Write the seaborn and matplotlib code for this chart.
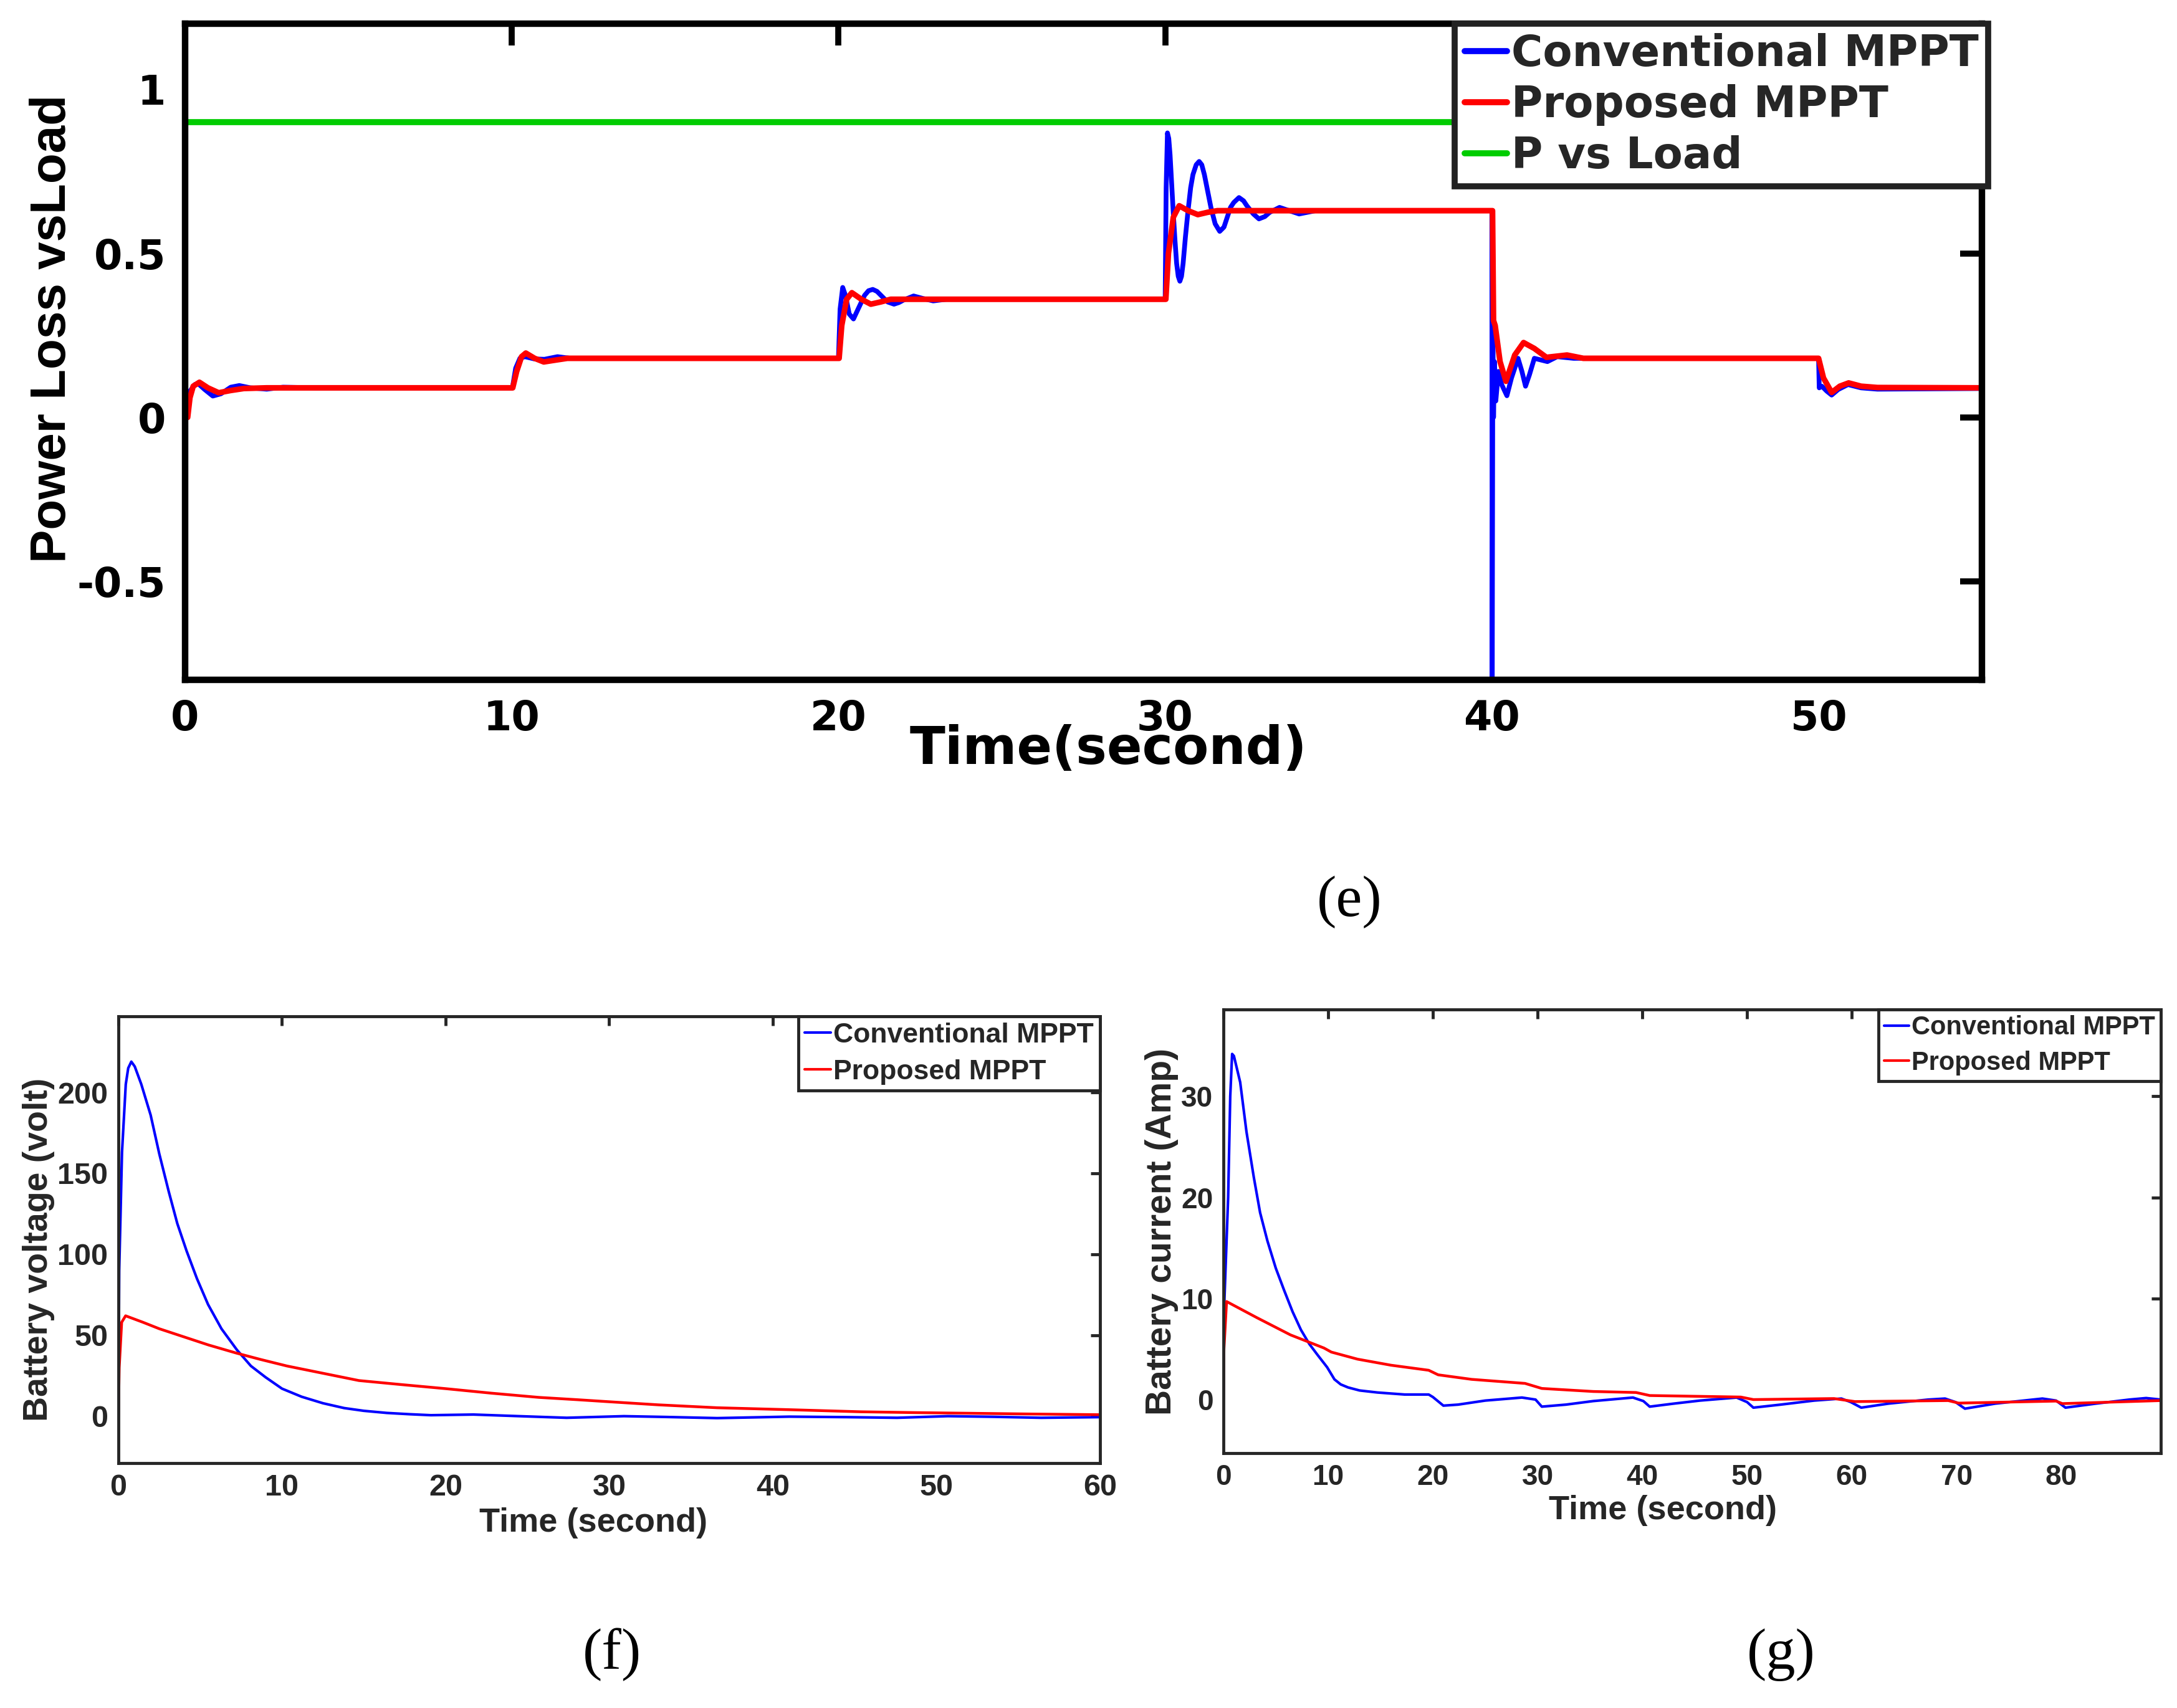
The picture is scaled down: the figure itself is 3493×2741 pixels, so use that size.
import matplotlib
matplotlib.use("Agg")
import matplotlib.pyplot as plt
import seaborn as sns

# ---------------- data: panel (e) Power loss vs load ----------------
e_conv_t = [0.0, 0.06, 0.15, 0.3, 0.4, 0.6, 0.85, 1.1, 1.4, 1.66, 2.0, 2.5, 3.0, 4.0, 9.98,
            10.02, 10.12, 10.25, 10.4, 10.7, 11.0, 11.4, 11.8, 19.98,
            20.0, 20.05, 20.13, 20.22, 20.33, 20.46, 20.6, 20.8, 20.92, 21.05, 21.18, 21.3, 21.5,
            21.7, 21.85, 22.0, 22.3, 22.6, 22.9, 23.3, 29.98,
            30.0, 30.03, 30.07, 30.11, 30.15, 30.2, 30.25, 30.3, 30.35, 30.4, 30.45, 30.5, 30.55,
            30.62, 30.7, 30.78, 30.85, 30.95, 31.04, 31.12, 31.2, 31.3, 31.4, 31.53, 31.67, 31.8,
            31.9, 32.0, 32.1, 32.26, 32.4, 32.5, 32.7, 32.87, 33.05, 33.2, 33.5, 33.8, 34.1,
            34.6, 39.98,
            40.0, 40.01, 40.03, 40.05, 40.08, 40.12, 40.2, 40.3, 40.46, 40.6, 40.8, 40.92, 41.03,
            41.15, 41.3, 41.5, 41.7, 42.0, 42.5, 49.98,
            50.0, 50.02, 50.1, 50.25, 50.4, 50.6, 50.9, 51.3, 51.8, 55.0]
e_conv_v = [0.0, 0.03, 0.08, 0.1, 0.103, 0.085, 0.065, 0.072, 0.092, 0.097, 0.09, 0.086, 0.092, 0.09, 0.09,
            0.09, 0.15, 0.18, 0.185, 0.178, 0.177, 0.185, 0.18, 0.18,
            0.18, 0.33, 0.396, 0.37, 0.315, 0.30, 0.33, 0.372, 0.386, 0.39, 0.384, 0.372, 0.352,
            0.345, 0.35, 0.358, 0.37, 0.362, 0.355, 0.36, 0.36,
            0.36, 0.70, 0.867, 0.85, 0.80, 0.71, 0.62, 0.54, 0.47, 0.43, 0.415, 0.43, 0.47,
            0.55, 0.63, 0.70, 0.74, 0.77, 0.78, 0.77, 0.74, 0.69, 0.64, 0.59, 0.567, 0.58,
            0.61, 0.64, 0.655, 0.67, 0.66, 0.645, 0.62, 0.605, 0.612, 0.625, 0.64, 0.63, 0.62,
            0.63, 0.63,
            0.63, -0.85, 0.27, 0.0, 0.17, 0.05, 0.14, 0.10, 0.066, 0.12, 0.18, 0.14, 0.095,
            0.13, 0.18, 0.175, 0.17, 0.185, 0.18, 0.18,
            0.18, 0.09, 0.095, 0.08, 0.068, 0.085, 0.10, 0.09, 0.086, 0.088]

e_prop_t = [0.0, 0.08, 0.15, 0.25, 0.44, 0.7, 1.03, 1.4, 1.8, 2.5, 9.98,
            10.03, 10.15, 10.3, 10.43, 10.7, 10.98, 11.3, 11.7, 19.98,
            20.02, 20.1, 20.25, 20.41, 20.7, 20.99, 21.3, 21.6, 29.98,
            30.02, 30.1, 30.25, 30.43, 30.7, 31.0, 31.3, 31.6, 39.98,
            40.02, 40.05, 40.1, 40.25, 40.43, 40.7, 40.97, 41.3, 41.67, 42.3, 42.8, 49.98,
            50.0, 50.15, 50.4, 50.65, 50.92, 51.3, 51.8, 55.0]
e_prop_v = [0.0, 0.0, 0.06, 0.095, 0.107, 0.09, 0.075, 0.082, 0.088, 0.09, 0.09,
            0.09, 0.14, 0.185, 0.196, 0.18, 0.169, 0.174, 0.18, 0.18,
            0.18, 0.28, 0.36, 0.38, 0.36, 0.345, 0.352, 0.36, 0.36,
            0.36, 0.50, 0.61, 0.645, 0.63, 0.618, 0.625, 0.63, 0.63,
            0.63, 0.295, 0.28, 0.17, 0.11, 0.19, 0.228, 0.21, 0.183, 0.19, 0.18, 0.18,
            0.18, 0.12, 0.076, 0.095, 0.105, 0.095, 0.091, 0.09]

e_load_t = [0.0, 55.0]
e_load_v = [0.9, 0.9]

e_xticks = [0, 10, 20, 30, 40, 50]
e_xticklabels = ["0", "10", "20", "30", "40", "50"]
e_yticks = [-0.5, 0, 0.5, 1]
e_yticklabels = ["-0.5", "0", "0.5", "1"]

# ---------------- data: panel (f) Battery voltage ----------------
f_conv_t = [0.0, 0.05, 0.22, 0.45, 0.6, 0.79, 1.0, 1.4, 1.97, 2.5, 3.07, 3.6, 4.17, 4.8, 5.48,
            6.3, 7.24, 8.1, 9.0, 10.0, 11.2, 12.5, 13.8, 15.0, 16.4, 17.8, 19.1, 21.7, 24.5,
            27.4, 30.9, 33.5, 36.6, 41.0, 44.5, 47.6, 50.7, 53.5, 56.4, 60.0]
f_conv_v = [0, 90, 163, 205, 215, 219, 216, 205, 186, 162, 139, 119, 102, 85, 69,
            54, 41, 31, 24, 17, 12, 8, 5, 3.3, 2, 1.2, 0.6, 1, 0,
            -1, 0, -0.5, -1.2, -0.3, -0.6, -1, 0, -0.4, -1, -0.6]
f_prop_t = [0.0, 0.05, 0.2, 0.44, 1.5, 2.5, 3.7, 5.5, 7.2, 8.7, 10.3, 12.5, 14.7, 17.3, 20.0,
            22.8, 25.7, 28.0, 30.0, 33.0, 36.6, 41.0, 45.4, 48.7, 52.0, 56.0, 60.0]
f_prop_v = [0, 30, 58, 62, 58, 54, 50, 44, 39, 35, 31, 26.5, 22, 19.5, 17,
            14.2, 11.6, 10.2, 8.9, 7.0, 5.2, 4.0, 2.7, 2.2, 1.8, 1.3, 0.9]
f_xticks = [0, 10, 20, 30, 40, 50, 60]
f_yticks = [0, 50, 100, 150, 200]

# ---------------- data: panel (g) Battery current ----------------
g_conv_t = [0.0, 0.1, 0.45, 0.65, 0.83, 1.0, 1.6, 2.2, 2.9, 3.5, 4.2, 5.0, 5.8, 6.6, 7.4, 8.2,
            9.0, 9.9, 10.6, 11.2, 11.9, 13.0, 14.7, 17.3, 19.6, 20.0, 21.0, 22.4, 25.0, 28.5,
            29.8, 30.4, 32.7, 35.3, 39.1, 40.1, 40.7, 43.0, 45.5, 49.0, 50.0, 50.6, 53.2, 56.4,
            59.0, 59.9, 60.9, 63.5, 67.3, 68.9, 69.9, 70.8, 73.7, 78.2, 79.5, 80.4, 83.3, 86.5,
            88.1, 89.5]
g_conv_v = [0, 10, 20, 30, 34.2, 34, 31.4, 26.5, 22, 18.5, 15.7, 13, 10.8, 8.7, 6.9, 5.5,
            4.4, 3.2, 2.0, 1.5, 1.2, 0.9, 0.7, 0.5, 0.5, 0.25, -0.6, -0.5, -0.1, 0.2,
            0, -0.7, -0.5, -0.15, 0.2, -0.15, -0.7, -0.4, -0.1, 0.2, -0.25, -0.8, -0.5, -0.1,
            0.1, -0.25, -0.8, -0.4, 0, 0.1, -0.25, -0.9, -0.4, 0.1, -0.1, -0.8, -0.4, 0,
            0.15, 0]
g_prop_t = [0.0, 0.05, 0.3, 3.2, 6.4, 9.6, 10.3, 12.8, 16.0, 19.6, 20.5, 23.7, 28.8, 30.4,
            35.3, 39.4, 40.7, 49.4, 50.6, 58.3, 60.3, 69.2, 70.2, 79.5, 80.1, 89.5]
g_prop_v = [0, 5, 9.7, 8.1, 6.4, 5.1, 4.7, 4.0, 3.4, 2.9, 2.45, 2.0, 1.6, 1.1,
            0.8, 0.7, 0.4, 0.25, 0, 0.1, -0.2, -0.1, -0.35, -0.15, -0.4, -0.1]
g_xticks = [0, 10, 20, 30, 40, 50, 60, 70, 80]
g_yticks = [0, 10, 20, 30]

series_names = ["Conventional MPPT", "Proposed MPPT", "P vs Load"]
panel_labels = ["(e)", "(f)", "(g)"]

# ---------------- style ----------------
sns.set_style("white")
plt.rcParams["font.family"] = ["Liberation Sans", "DejaVu Sans"]
plt.rcParams["font.weight"] = "bold"
plt.rcParams["axes.unicode_minus"] = False

BLUE = "#0000ff"
RED = "#ff0000"
GREEN = "#00cc00"
WIDE = ["DejaVu Sans"]

fig = plt.figure(figsize=(34.93, 27.41), dpi=100)
fig.patch.set_facecolor("white")

# ================= panel (e) =================
ax = fig.add_axes([0.0850, 0.60197, 0.8254, 0.38417])
sns.lineplot(x=e_conv_t, y=e_conv_v, ax=ax, color=BLUE, lw=5.5, sort=False,
             estimator=None, label=series_names[0])
sns.lineplot(x=e_prop_t, y=e_prop_v, ax=ax, color=RED, lw=6.5, sort=False,
             estimator=None, label=series_names[1])
sns.lineplot(x=e_load_t, y=e_load_v, ax=ax, color=GREEN, lw=7, sort=False,
             estimator=None, label=series_names[2])
ax.set_xlim(0, 55)
ax.set_ylim(-0.8, 1.2)
ax.set_xticks(e_xticks, e_xticklabels, fontfamily=WIDE, fontsize=47, fontweight="bold")
ax.set_yticks(e_yticks, e_yticklabels, fontfamily=WIDE, fontsize=47, fontweight="bold")
for s in ax.spines.values():
    s.set_linewidth(7.5)
    s.set_color("black")
ax.tick_params(direction="in", length=25, width=7, top=True, right=True,
               pad=22, colors="black")
ax.set_xlabel("Time(second)", fontsize=60, fontweight="bold", color="black",
              fontfamily=WIDE)
ax.xaxis.set_label_coords(0.514, -0.106)
ax.xaxis.label.set_va("center")
ax.set_ylabel("Power Loss vsLoad", fontsize=57.5, fontweight="bold", color="black")
ax.yaxis.set_label_coords(-0.0735, 0.535)
ax.yaxis.label.set_va("center")
leg = ax.legend(loc="upper right", bbox_to_anchor=(1.0035, 1.0), borderaxespad=0,
                prop={"family": WIDE, "weight": "bold", "size": 49.5},
                frameon=True, fancybox=False, handlelength=1.0,
                handletextpad=0.1, labelspacing=0.22, borderpad=0.22)
leg.get_frame().set_edgecolor("#222222")
leg.get_frame().set_linewidth(7)
leg.get_frame().set_alpha(1)
for h in leg.get_lines():
    h.set_linewidth(7)

# ================= panel (f) =================
axf = fig.add_axes([0.05439, 0.14338, 0.45090, 0.26158])
sns.lineplot(x=f_conv_t, y=f_conv_v, ax=axf, color=BLUE, lw=3, sort=False,
             estimator=None, label=series_names[0])
sns.lineplot(x=f_prop_t, y=f_prop_v, ax=axf, color=RED, lw=3.2, sort=False,
             estimator=None, label=series_names[1])
axf.set_xlim(0, 60)
axf.set_ylim(-29, 247)

# ================= panel (g) =================
axg = fig.add_axes([0.56198, 0.14922, 0.43057, 0.25976])
sns.lineplot(x=g_conv_t, y=g_conv_v, ax=axg, color=BLUE, lw=3, sort=False,
             estimator=None, label=series_names[0])
sns.lineplot(x=g_prop_t, y=g_prop_v, ax=axg, color=RED, lw=3.2, sort=False,
             estimator=None, label=series_names[1])
axg.set_xlim(0, 89.5)
axg.set_ylim(-5.3, 38.6)

TXT = "#262626"
for a, xt, yt, ylab, ylc, xlc, lfs, yfs, tfs in [
        (axf, f_xticks, f_yticks, "Battery voltage (volt)", (-0.081, 0.478), (0.484, -0.134), 32, 40, 35),
        (axg, g_xticks, g_yticks, "Battery current (Amp)", (-0.066, 0.50), (0.469, -0.129), 30, 41, 33)]:
    a.set_xticks(xt, [str(v) for v in xt], fontsize=tfs, fontweight="bold")
    a.set_yticks(yt, [str(v) for v in yt], fontsize=tfs, fontweight="bold")
    for s in a.spines.values():
        s.set_linewidth(3.5)
        s.set_color(TXT)
    a.tick_params(direction="in", length=11, width=3.5, top=True, right=True,
                  pad=12, colors=TXT)
    a.set_xlabel("Time (second)", fontsize=39, fontweight="bold", color=TXT)
    a.xaxis.set_label_coords(*xlc)
    a.xaxis.label.set_va("center")
    a.set_ylabel(ylab, fontsize=yfs, fontweight="bold", color=TXT)
    a.yaxis.set_label_coords(*ylc)
    a.yaxis.label.set_va("center")
    lg = a.legend(loc="upper right", bbox_to_anchor=(1.0, 1.0), borderaxespad=0,
                  prop={"weight": "bold", "size": lfs},
                  frameon=True, fancybox=False, handlelength=0.95,
                  handletextpad=0.1, labelspacing=0.4, borderpad=0.22)
    lg.get_frame().set_edgecolor(TXT)
    lg.get_frame().set_linewidth(3.5)
    lg.get_frame().set_alpha(1)
    for t in lg.get_texts():
        t.set_color(TXT)
    for h in lg.get_lines():
        h.set_linewidth(3)

# ================= panel captions =================
serif = ["Liberation Serif", "DejaVu Serif"]
for lab, (px, py) in zip(panel_labels, [(2165, 1448), (982, 2655), (2858, 2655)]):
    fig.text(px / 3493, 1 - py / 2741, lab, family=serif, fontsize=68,
             fontweight="normal", ha="center", va="center", color="black")

fig.savefig("out.png", dpi=100, facecolor="white")
